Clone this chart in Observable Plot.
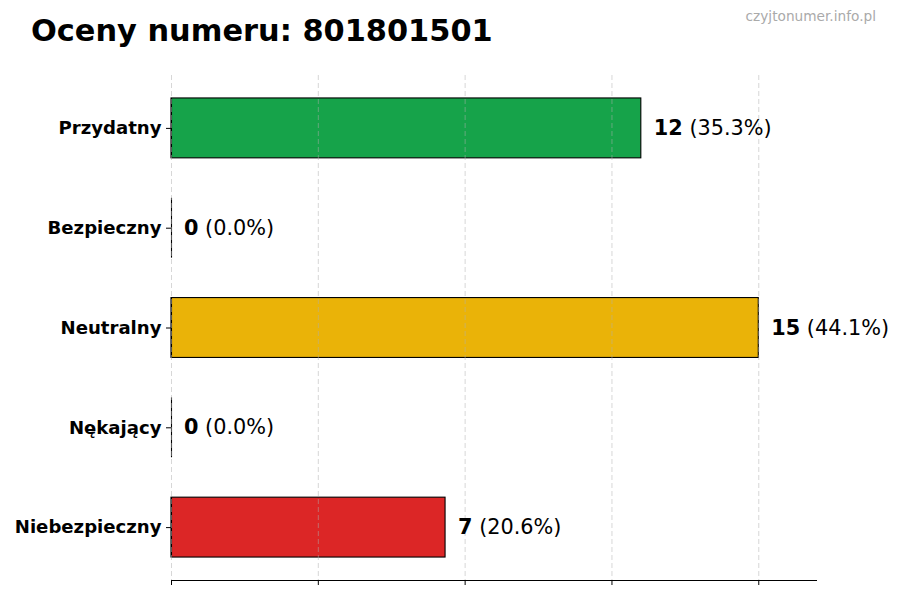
<!DOCTYPE html>
<html>
<head>
<meta charset="utf-8">
<script src="https://cdn.jsdelivr.net/npm/d3@7"></script>
<script src="https://cdn.jsdelivr.net/npm/@observablehq/plot@0.6"></script>
<style>
  body { margin: 0; background: #fff; font-family: "DejaVu Sans", sans-serif; }
  #wrap { width: 900px; height: 600px; position: relative; overflow: hidden; }
  #header { position: relative; width: 900px; height: 60px; }
  #title { position: absolute; left: 31px; top: 16px; font-size: 30.4px; line-height: 1; font-weight: bold; color: #000; white-space: nowrap; }
  #wm { position: absolute; right: 24px; top: 10px; font-size: 13.7px; line-height: 1; color: #aaaaaa; white-space: nowrap; }
  svg { display: block; }
</style>
</head>
<body>
<div id="wrap">
  <div id="header">
    <div id="title">Oceny numeru: 801801501</div>
    <div id="wm">czyjtonumer.info.pl</div>
  </div>
  <div id="chart"></div>
</div>
<script>
const categories = ["Przydatny", "Bezpieczny", "Neutralny", "Nękający", "Niebezpieczny"];
const counts = [12, 0, 15, 0, 7];
const percents = ["35.3%", "0.0%", "44.1%", "0.0%", "20.6%"];
const colors = ["#16a34a", "#22c55e", "#eab308", "#f97316", "#dc2626"];
const xTicks = [0, 3.75, 7.5, 11.25, 15];
const xMax = 16.5;

const rows = categories.map((c, i) => ({
  cat: c, idx: i, count: counts[i], pct: percents[i], color: colors[i]
}));

const chart = Plot.plot({
  width: 900,
  height: 540,
  marginLeft: 171,
  marginRight: 83,
  marginTop: 15,
  marginBottom: 20,
  style: { fontFamily: "DejaVu Sans", color: "#000", background: "#fff" },
  x: { domain: [0, xMax], label: null },
  y: { domain: [-0.53, 4.53], reverse: true, label: null },
  marks: [
    Plot.rectX(rows, {
      x1: 0, x2: "count",
      y1: d => d.idx - 0.3, y2: d => d.idx + 0.3,
      fill: "color", stroke: "#000", strokeWidth: 1.1
    }),
    Plot.ruleX(rows, {
      x: 0, y1: d => d.idx - 0.3, y2: d => d.idx + 0.3,
      stroke: "#000", strokeWidth: 1.1
    }),
    Plot.gridX(xTicks, { stroke: "#b0b0b0", strokeOpacity: 0.5, strokeDasharray: "5,3", strokeWidth: 1 }),
    Plot.ruleY([4.53], { stroke: "#000", strokeWidth: 1.2 }),
    Plot.axisX({ ticks: xTicks, tickFormat: () => "", tickSize: 5, stroke: "#000", label: null }),
    Plot.axisY({
      ticks: rows.map(d => d.idx),
      tickFormat: i => categories[i],
      tickSize: 5, tickPadding: 5, label: null,
      fontSize: 18.1, fontWeight: "bold", stroke: "#000", fill: "#000"
    }),
    Plot.text(rows, {
      x: "count", y: "idx",
      text: d => `${d.count} (${d.pct})`,
      dx: 12.5, textAnchor: "start", fontSize: 20.8, fill: "#000"
    })
  ]
});

document.getElementById("chart").appendChild(chart);

// split value labels into bold count + regular percentage
d3.select(chart).selectAll("text").each(function () {
  const t = this.textContent;
  const m = t.match(/^(\d+) (\(.*\))$/);
  if (!m) return;
  const el = d3.select(this);
  el.text(null);
  el.append("tspan").attr("font-weight", "bold").text(m[1]);
  el.append("tspan").attr("font-weight", "normal").text(" " + m[2]);
});
</script>
</body>
</html>
